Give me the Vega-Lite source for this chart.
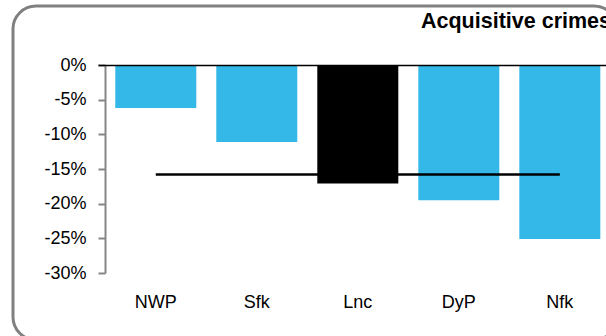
{
  "$schema": "https://vega.github.io/schema/vega-lite/v6.json",
  "width": 604,
  "height": 334,
  "autosize": {"type": "none"},
  "padding": {"left": 13, "top": 6, "right": -11, "bottom": -4},
  "background": "white",
  "config": {
    "view": {"stroke": "#808080", "strokeWidth": 3, "cornerRadius": 23, "fill": "white"},
    "font": "Liberation Sans"
  },
  "title": {
    "text": "Acquisitive crimes",
    "anchor": "start",
    "frame": "group",
    "orient": "top",
    "offset": 0,
    "dx": 408,
    "dy": 43,
    "baseline": "alphabetic",
    "fontSize": 21.5,
    "fontWeight": "bold",
    "color": "black",
    "font": "Liberation Sans"
  },
  "layer": [
    {
      "data": {"values": [
        {"area": "NWP", "change": -6.2, "group": "other"},
        {"area": "Sfk", "change": -11.1, "group": "other"},
        {"area": "Lnc", "change": -17.1, "group": "Lincolnshire"},
        {"area": "DyP", "change": -19.5, "group": "other"},
        {"area": "Nfk", "change": -25.1, "group": "other"}
      ]},
      "mark": {"type": "bar"},
      "encoding": {
        "x": {
          "field": "area", "type": "nominal",
          "scale": {"domain": ["NWP", "Sfk", "Lnc", "DyP", "Nfk"], "range": [85, 604.6], "paddingInner": 0.198, "paddingOuter": 0.171},
          "axis": {
            "orient": "bottom", "offset": -275, "title": null, "ticks": false,
            "domainColor": "black", "domainWidth": 1.5, "labelPadding": 228,
            "labelFontSize": 18, "labelColor": "black", "labelAngle": 0,
            "labelFont": "Liberation Sans", "zindex": 1
          }
        },
        "y": {
          "field": "change", "type": "quantitative",
          "scale": {"domain": [-30, 0], "range": [267, 59], "nice": false},
          "axis": {
            "orient": "left", "offset": -92, "title": null, "grid": false,
            "values": [0, -5, -10, -15, -20, -25, -30],
            "labelExpr": "datum.value + '%'",
            "domainColor": "#868686", "domainWidth": 2,
            "tickColor": "#868686", "tickWidth": 2, "tickSize": 7,
            "labelPadding": 12, "labelFontSize": 18, "labelColor": "black",
            "labelFont": "Liberation Sans"
          }
        },
        "color": {
          "field": "group", "type": "nominal",
          "scale": {"domain": ["other", "Lincolnshire"], "range": ["#33B8E8", "#000000"]},
          "legend": null
        }
      }
    },
    {
      "data": {"values": [
        {"area": "NWP", "average": -15.8},
        {"area": "Nfk", "average": -15.8}
      ]},
      "mark": {"type": "line", "color": "black", "strokeWidth": 2.5},
      "encoding": {
        "x": {"field": "area", "type": "nominal"},
        "y": {"field": "average", "type": "quantitative"}
      }
    }
  ]
}
